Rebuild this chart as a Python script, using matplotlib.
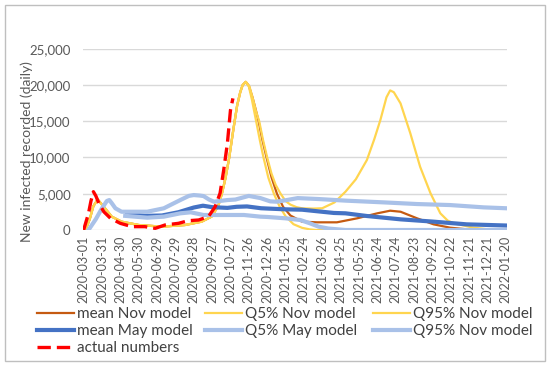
import matplotlib
matplotlib.use("Agg")
import matplotlib.pyplot as plt
from matplotlib.patches import Rectangle

plt.rcParams['font.family'] = ['Lato', 'DejaVu Sans']

# x values are days after 2020-03-01
tick_labels = ["2020-03-01", "2020-03-31", "2020-04-30", "2020-05-30", "2020-06-29",
               "2020-07-29", "2020-08-28", "2020-09-27", "2020-10-27", "2020-11-26",
               "2020-12-26", "2021-01-25", "2021-02-24", "2021-03-26", "2021-04-25",
               "2021-05-25", "2021-06-24", "2021-07-24", "2021-08-23", "2021-09-22",
               "2021-10-22", "2021-11-21", "2021-12-21", "2022-01-20"]
ytick_vals = [0, 5000, 10000, 15000, 20000, 25000]
ytick_labels = ["0", "5,000", "10,000", "15,000", "20,000", "25,000"]

# first wave shared by the Nov model lines (up to the peak)
wave_days = [3, 10, 16, 23, 30, 35, 46, 62, 90, 128, 166, 193, 209, 220, 226, 232,
             238, 245, 251, 256, 260, 265]
wave_vals = [0, 1500, 3300, 4210, 3500, 2990, 1840, 1150, 690, 460, 690, 1150, 1840,
             3300, 5000, 7200, 10000, 14000, 17200, 19000, 20000, 20430]

mean_nov_days = wave_days + [270, 276, 281, 286, 292, 299, 307, 316, 326, 338, 357,
                             381, 414, 447, 480, 501, 518, 545, 572, 599, 626, 650, 690]
mean_nov_vals = wave_vals + [19900, 18300, 16700, 15000, 12500, 10000, 7300, 5000,
                             3200, 2000, 1150, 1060, 1060, 1610, 2300, 2660, 2520, 1610,
                             780, 320, 100, 0, 0]

q5_nov_days = wave_days + [270, 275, 282, 288, 294, 302, 311, 320, 330, 343, 357, 370,
                           380, 400, 690]
q5_nov_vals = wave_vals + [19800, 18000, 15000, 12400, 10000, 7200, 5000, 3300, 1900,
                           800, 300, 80, 0, 0, 0]

q95_nov_days = wave_days + [271, 277, 282, 287, 293, 300, 307, 314, 322, 330, 338, 348,
                            357, 375, 390, 410, 428, 445, 463, 475, 485, 495, 501, 507,
                            518, 534, 550, 567, 583, 595, 605, 637, 660, 690]
q95_nov_vals = wave_vals + [19800, 18000, 16300, 15000, 12500, 10000, 7800, 6200, 5000,
                            4000, 3500, 3150, 2990, 2950, 3000, 3800, 5280, 7000, 9650,
                            12500, 15160, 18300, 19250, 19000, 17460, 13330, 8720, 5060,
                            2300, 1300, 920, 320, 100, 0]

mean_may_days = [71, 100, 128, 155, 180, 195, 210, 235, 250, 267, 290, 303, 330, 357,
                 409, 428, 463, 518, 572, 626, 690]
mean_may_vals = [2300, 1950, 2000, 2450, 3100, 3350, 3150, 3050, 3200, 3250, 3000, 2950,
                 2850, 2800, 2350, 2300, 1930, 1470, 1150, 780, 620]

q5_may_days = [68, 104, 131, 158, 175, 196, 235, 262, 289, 300, 330, 354, 370, 384,
               400, 428, 690]
q5_may_vals = [1950, 1700, 1840, 2300, 2440, 2070, 2070, 2070, 1840, 1800, 1610, 1380,
               920, 460, 200, 0, 0]

q95_may_days = [8, 20, 30, 38, 42, 46, 52, 62, 71, 104, 131, 158, 172, 180, 190, 196,
                205, 213, 235, 248, 270, 289, 305, 316, 330, 350, 384, 428, 490, 545,
                599, 654, 690]
q95_may_vals = [0, 1500, 3000, 4000, 4130, 3700, 2990, 2520, 2520, 2520, 2990, 4130,
                4700, 4820, 4750, 4680, 4200, 3900, 4130, 4200, 4700, 4400, 3950, 3900,
                4100, 4400, 4270, 4050, 3810, 3580, 3440, 3120, 3000]

actual_days = [0, 8, 12, 16, 20, 25, 33, 44, 60, 79, 100, 117, 133, 155, 171, 188, 204,
               215, 223, 229, 235, 240, 244]
actual_vals = [0, 2300, 4000, 5280, 4700, 3670, 2520, 1610, 920, 460, 460, 230, 690,
               920, 1280, 1380, 1840, 3210, 5060, 8270, 11950, 16500, 18150]

fig = plt.figure(figsize=(5.5, 3.67), dpi=100)
ax = fig.add_axes([83 / 550, 1 - 230 / 367, 424 / 550, (230 - 48.7) / 367])

yellow = "#FFD54F"
light_blue = "#A9C1E8"
l1, = ax.plot(mean_nov_days, mean_nov_vals, color="#C55A11", lw=1.6, label="mean Nov model")
l2, = ax.plot(q5_nov_days, q5_nov_vals, color=yellow, lw=1.6, label="Q5% Nov model")
l3, = ax.plot(q95_nov_days, q95_nov_vals, color=yellow, lw=1.6, label="Q95% Nov model")
l4, = ax.plot(mean_may_days, mean_may_vals, color="#4472C4", lw=3, label="mean May model")
l5, = ax.plot(q5_may_days, q5_may_vals, color=light_blue, lw=3, label="Q5% May model")
l6, = ax.plot(q95_may_days, q95_may_vals, color=light_blue, lw=3, label="Q95% Nov model")
l7, = ax.plot(actual_days, actual_vals, color="#FF0000", lw=2.4, ls=(0, (4, 1.8)),
              label="actual numbers")

ax.set_xlim(-1, 692)
ax.set_ylim(0, 25000)
ax.set_xticks([i * 30 for i in range(len(tick_labels))])
ax.set_xticklabels(tick_labels, rotation=90, fontsize=9, color="#595959")
ax.set_yticks(ytick_vals)
ax.set_yticklabels(ytick_labels, fontsize=9.5, color="#595959")
ax.tick_params(axis="x", length=0, pad=4)
ax.tick_params(axis="y", length=0, pad=9)
ax.grid(axis="y", color="#D9D9D9", lw=1)
ax.set_axisbelow(True)
for s in ax.spines.values():
    s.set_visible(False)
ax.set_ylabel("New infected recorded (daily)", fontsize=10, color="#595959")
ax.yaxis.set_label_coords(-0.118, 0.43)

cols = [[l1, l4, l7], [l2, l5], [l3, l6]]
xs = [37 / 550, 205 / 550, 373 / 550]
for hs, x in zip(cols, xs):
    fig.legend(handles=hs, loc="upper left", bbox_to_anchor=(x, 1 - 307 / 367),
               frameon=False, fontsize=11, handlelength=2.4, handletextpad=0.25,
               labelspacing=0.2, borderaxespad=0, borderpad=0,
               labelcolor="#404040")

fig.patches.append(Rectangle((4.5 / 550, 1 - 361 / 367), 540.5 / 550, 356 / 367,
                             transform=fig.transFigure, fill=False,
                             edgecolor="#BFBFBF", lw=1))

fig.savefig("out.png", dpi=100)
